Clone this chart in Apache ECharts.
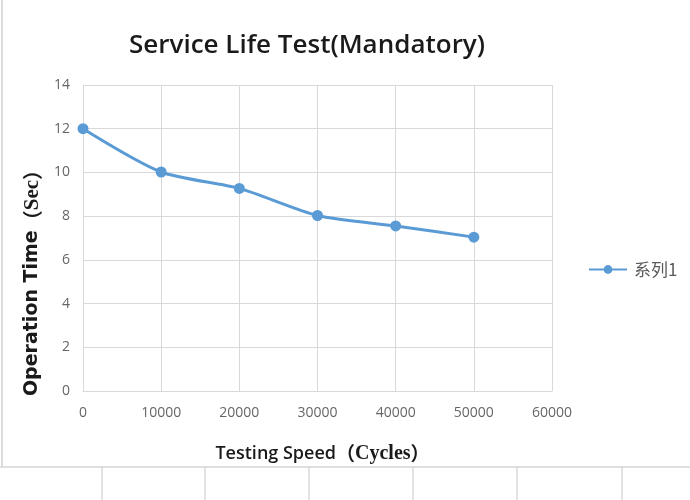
<!DOCTYPE html>
<html><head><meta charset="utf-8">
<script src="https://cdn.jsdelivr.net/npm/echarts@6/dist/echarts.min.js"></script>
<style>html,body{margin:0;padding:0;background:#fff}#c{width:690px;height:500px}</style>
</head><body><div id="c"></div>
<script>
var cycles = [0, 10000, 20000, 30000, 40000, 50000];
var opTime = [12, 10.02, 9.27, 8.03, 7.55, 7.04];
var seriesName = '系列1';
var titleText = 'Service Life Test(Mandatory)';

var chart = echarts.init(document.getElementById('c'));
var grey = '#d9d9d9';
chart.setOption({
  backgroundColor: '#fff',
  animation: false,
  title: {
    text: titleText, left: 302, top: 28, textAlign: 'center',
    textStyle: {fontFamily: 'Open Sans', fontSize: 26, fontWeight: 600, color: '#1a1a1a'}
  },
  legend: {
    data: [seriesName], left: 583, top: 256, itemWidth: 38, itemHeight: 11, itemGap: 4,
    textStyle: {fontFamily: 'Noto Sans CJK SC', fontSize: 17, color: '#595959', padding: [0, 0, 0, 2]}
  },
  grid: {left: 83, right: 138, top: 85, bottom: 109},
  xAxis: {
    type: 'value', min: 0, max: 60000, interval: 10000,
    name: 'Testing Speed{s|（}{c|Cycles}{s|）}', nameLocation: 'middle', nameGap: 53,
    nameTextStyle: {fontFamily: 'Open Sans', fontSize: 18, fontWeight: 600, color: '#1a1a1a', padding: [0, 0, 0, 10],
      rich: {s: {fontFamily: 'Noto Sans CJK SC', fontSize: 19, fontWeight: 700, color: '#1a1a1a'},
             c: {fontFamily: 'Liberation Serif', fontSize: 20, fontWeight: 700, color: '#1a1a1a'}}},
    axisLine: {show: true, lineStyle: {color: grey, width: 1}},
    axisTick: {show: false},
    axisLabel: {fontFamily: 'Open Sans', fontSize: 14, color: '#666', margin: 15,
      formatter: function (v) { return String(v); }},
    splitLine: {show: true, lineStyle: {color: grey, width: 1}}
  },
  yAxis: {
    type: 'value', min: 0, max: 14, interval: 2,
    name: 'Operation Time{s|（}{c|Sec}{s|）}', nameLocation: 'middle', nameGap: 40, nameRotate: 90,
    nameTextStyle: {fontFamily: 'DejaVu Sans', fontSize: 19, fontWeight: 700, color: '#1a1a1a', padding: [0, 80, 0, 0],
      rich: {s: {fontFamily: 'Noto Sans CJK SC', fontSize: 20, fontWeight: 700, color: '#1a1a1a'},
             c: {fontFamily: 'Liberation Serif', fontSize: 21, fontWeight: 700, color: '#1a1a1a'}}},
    axisLine: {show: false},
    axisTick: {show: false},
    axisLabel: {fontFamily: 'Open Sans', fontSize: 14, color: '#666', margin: 13},
    splitLine: {show: true, lineStyle: {color: grey, width: 1}}
  },
  series: [{
    name: seriesName, type: 'line', smooth: 0.25,
    data: cycles.map(function (c, i) { return [c, opTime[i]]; }),
    symbol: 'circle', symbolSize: 11,
    lineStyle: {color: '#5b9bd5', width: 3},
    itemStyle: {color: '#5b9bd5'}
  }],
  graphic: [
    {type: 'line', shape: {x1: 2, y1: 0, x2: 2, y2: 467}, style: {stroke: '#d0d0d0', lineWidth: 1.5}},
    {type: 'line', shape: {x1: 0, y1: 467, x2: 690, y2: 467}, style: {stroke: '#d6d6d6', lineWidth: 1.5}},
    {type: 'line', shape: {x1: 102, y1: 467, x2: 102, y2: 500}, style: {stroke: '#c8c8c8', lineWidth: 1}},
    {type: 'line', shape: {x1: 205, y1: 467, x2: 205, y2: 500}, style: {stroke: '#c8c8c8', lineWidth: 1}},
    {type: 'line', shape: {x1: 309, y1: 467, x2: 309, y2: 500}, style: {stroke: '#c8c8c8', lineWidth: 1}},
    {type: 'line', shape: {x1: 413, y1: 467, x2: 413, y2: 500}, style: {stroke: '#c8c8c8', lineWidth: 1}},
    {type: 'line', shape: {x1: 517, y1: 467, x2: 517, y2: 500}, style: {stroke: '#c8c8c8', lineWidth: 1}},
    {type: 'line', shape: {x1: 622, y1: 467, x2: 622, y2: 500}, style: {stroke: '#c8c8c8', lineWidth: 1}}
  ]
});
</script></body></html>
